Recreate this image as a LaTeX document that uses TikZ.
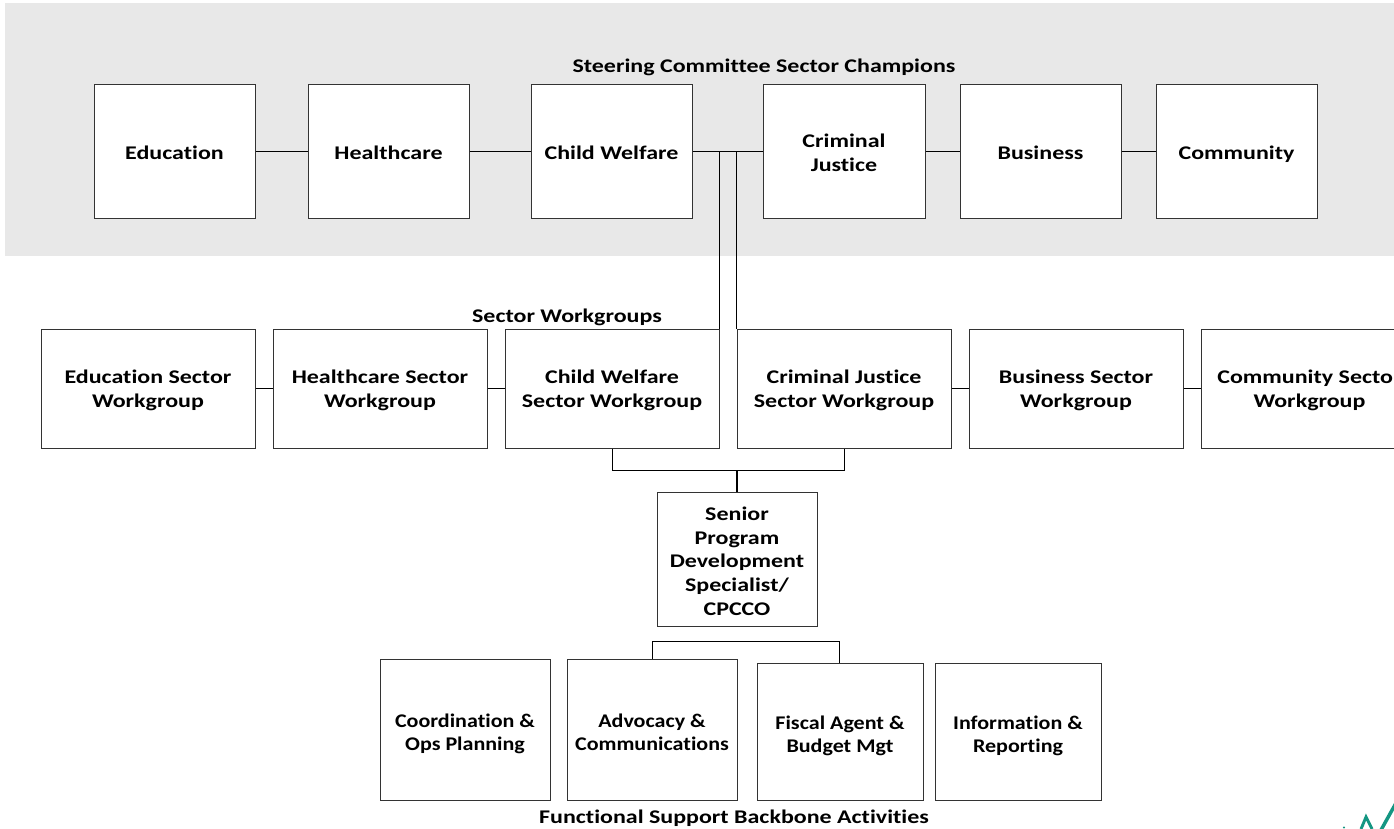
\documentclass[tikz,border=0pt]{standalone}
\usepackage{fontspec}
\setmainfont[FakeStretch=1.24,Ligatures=NoCommon]{Carlito}
\newfontfamily\narrowf[FakeStretch=1.14,Ligatures=NoCommon]{Carlito}
\definecolor{bandgrey}{RGB}{232,232,232}
\definecolor{logoteal}{RGB}{20,150,130}
\tikzset{
  box/.style={draw=black!80,line width=0.75pt,fill=white,rectangle,inner sep=0pt,align=center,font=\fontsize{14.5}{18}\selectfont\bfseries,text=black},
  lbl/.style={inner sep=0pt,font=\fontsize{14.5}{18}\selectfont\bfseries,text=black},
  con/.style={draw=black,line width=0.7pt},
  conb/.style={draw=black,line width=1.45pt},
  senf/.style={font=\fontsize{14.5}{17.7}\selectfont\bfseries},
  narf/.style={font=\fontsize{14.5}{17.3}\narrowf\selectfont\bfseries},
}
% [text drop px], name, l, t, r, b, text, node options
\newcommand{\bxx}[8][3]{%
  \node[box,#8,minimum width=#5*0.75pt-#3*0.75pt,minimum height=#6*0.75pt-#4*0.75pt] (#2) at ({(#3+#5)/2},{(#4+#6)/2}) {\rule{0pt}{\dimexpr12.6pt+1.5pt*#1\relax}#7\strut};}
\begin{document}
\begin{tikzpicture}[x=0.75pt,y=-0.75pt]
\useasboundingbox (0,0) rectangle (1394,828);
\clip (0,0) rectangle (1394,828);
\fill[white] (0,0) rectangle (1394,828);
\fill[bandgrey] (5,3) rectangle (1394,256);
\node[lbl] (t1) at (764,68) {\strut Steering Committee Sector Champions};
\node[lbl] (t2) at (567,318) {\strut Sector Workgroups};
\node[lbl] (t3) at (734,819) {\strut Functional Support Backbone Activities};
\bxx[4]{edu}{94}{84}{255}{218}{Education}{}
\bxx[4]{hea}{308}{84}{469}{218}{Healthcare}{}
\bxx[4]{chi}{531}{84}{692}{218}{Child Welfare}{}
\bxx[4]{cri}{763}{84}{925}{218}{Criminal\\Justice}{}
\bxx[4]{bus}{960}{84}{1121}{218}{Business}{}
\bxx[4]{com}{1156}{84}{1317}{218}{Community}{}
\bxx[2]{wedu}{41}{329}{255}{448}{Education Sector\\Workgroup}{}
\bxx[2]{whea}{273}{329}{487}{448}{Healthcare Sector\\Workgroup}{}
\bxx[2]{wchi}{505}{329}{719}{448}{Child Welfare\\Sector Workgroup}{}
\bxx[2]{wcri}{737}{329}{951}{448}{Criminal Justice\\Sector Workgroup}{}
\bxx[2]{wbus}{969}{329}{1183}{448}{Business Sector\\Workgroup}{}
\bxx[2]{wcom}{1201}{329}{1418}{448}{Community Sector\\Workgroup}{}
\bxx[4]{sen}{657}{492}{817}{626}{Senior\\Program\\Development\\Specialist/\\CPCCO}{senf}
\bxx[5]{coo}{380}{659}{550}{800}{Coordination \&\\Ops Planning}{narf}
\bxx[5]{adv}{567}{659}{737}{800}{Advocacy \&\\Communications}{narf}
\bxx[5]{fis}{757}{663}{923}{800}{Fiscal Agent \&\\Budget Mgt}{narf}
\bxx[5]{inf}{935}{663}{1101}{800}{Information \&\\Reporting}{narf}
\coordinate (jt) at (737,470);
\coordinate (jl) at (652,641);
\coordinate (jr) at (839,641);
\draw[con] (edu) -- (hea);
\draw[con] (hea) -- (chi);
\draw[con] (chi) -- (cri);
\draw[con] (cri) -- (bus);
\draw[con] (bus) -- (com);
\draw[con] (wedu) -- (whea);
\draw[conb] (wchi.north east) -- (wchi.north east |- chi.east);
\draw[conb] (wcri.north west) -- (wcri.north west |- chi.east);
\draw[con] (whea) -- (wchi);
\draw[con] (wcri) -- (wbus);
\draw[con] (wbus) -- (wcom);
\draw[con] (wchi.south) -- (wchi.south |- jt) -- (wcri.south |- jt) -- (wcri.south);
\draw[conb] (jt) -- (sen.north);
\draw[con] (jl |- adv.north) -- (jl) -- (jr) -- (jr |- fis.north);
\draw[logoteal,line width=2.2pt] (1361,829) -- (1366,817) -- (1372,829);
\draw[logoteal,line width=2.6pt] (1381,830) -- (1396,803);
\fill[logoteal] (1344,827.5) circle (1.2);
\end{tikzpicture}
\end{document}
